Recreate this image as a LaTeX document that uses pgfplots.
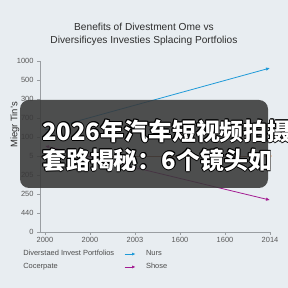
\documentclass[border=0pt]{standalone}
\usepackage{fontspec}
\setmainfont{Liberation Sans}
\newfontfamily\cjk{Noto Sans CJK SC}
\usepackage{pgfplots}
\pgfplotsset{compat=1.18}
\usetikzlibrary{arrows.meta}
\definecolor{bg}{HTML}{E8EDF1}
\definecolor{cblue}{HTML}{1E9AD8}
\definecolor{cpurple}{HTML}{A31C92}
\definecolor{cbrown}{HTML}{8B4A2B}
\definecolor{corange}{HTML}{F07A20}
\definecolor{txt}{HTML}{2E2E2E}
\definecolor{axgray}{HTML}{9A9EA2}
\begin{document}
\begin{tikzpicture}
\fill[bg] (0,0) rectangle (288bp,288bp);
\useasboundingbox (0,0) rectangle (288bp,288bp);
\begin{axis}[
  at={(40bp,56bp)}, anchor=south west,
  scale only axis, width=230bp, height=171bp,
  xmin=-0.111, xmax=5, ymin=0, ymax=9,
  axis lines=left, axis line style={axgray, -},
  clip=false,
  xtick={0,...,5}, xticklabels={2000,2000,2003,1600,1600,2014},
  ytick={0,...,9}, yticklabels={0,440,250,205,5,100,700,300,500,1000},
  tick align=outside, major tick length=3bp,
  tick style={axgray},
  /pgf/number format/assume math mode=true,
  ticklabel style={font=\fontsize{7.5}{8.5}\selectfont, text=txt!80},
  xticklabel style={yshift=1bp},
  ylabel={Miegr Tin's},
  ylabel style={at={(axis description cs:-0.109,0.626)}, anchor=center, rotate=0, font=\fontsize{9.5}{10}\selectfont, text=txt},
  every axis title shift=0pt,
  title={Benefits of Divestment Ome vs\\Diversificyes Investies Splacing Portfolios},
  title style={at={(axis description cs:0.452,1.155)}, anchor=center, align=center, font=\fontsize{10.2}{12.7}\selectfont, text=txt},
  legend columns=2,
  legend cell align=left,
  legend style={at={(axis description cs:-0.13,-0.09)}, anchor=north west, draw=none, fill=none,
    font=\fontsize{7.5}{8.5}\selectfont, text=txt!85, column sep=9bp, row sep=4bp,
    nodes={inner sep=1bp}},
]
\addplot[cbrown, line width=0.8pt, mark=*, mark indices={2}, mark options={corange, fill=corange, scale=0.5},
  legend image code/.code={}] coordinates {(-0.111,4.0) (5,4.0)};
\addlegendentry{Diverstaed Invest Portfolios}
\addplot[cblue, line width=0.8pt, -{Latex[length=4bp,width=3.5bp]},
  legend image code/.code={\draw[cblue, line width=0.8pt, -{Latex[length=3.5bp,width=3bp]}] (0bp,0bp) -- (11bp,0bp);}]
  coordinates {(0,5.37) (5,8.63)};
\addlegendentry{Nurs}
\addlegendimage{legend image code/.code={}}
\addlegendentry{Cocerpate}
\addplot[cpurple, line width=0.8pt, {Latex[length=4bp,width=3.5bp]}-{Latex[length=4bp,width=3.5bp]},
  legend image code/.code={\draw[cpurple, line width=0.8pt, -{Latex[length=3.5bp,width=3bp]}] (0bp,0bp) -- (11bp,0bp);}]
  coordinates {(0,4.53) (5,1.68)};
\addlegendentry{Shose}
\end{axis}
\fill[black!78, opacity=0.88, rounded corners=9bp] (20bp,100bp) rectangle (268bp,188bp);
\foreach \dx/\dy in {-0.9/0,0.9/0,0/-0.9,0/0.9,-0.65/-0.65,0.65/0.65,-0.65/0.65,0.65/-0.65} {
  \node[anchor=west, inner sep=0pt, text=black] at (42bp+\dx bp,157bp+\dy bp) {\cjk\bfseries\fontsize{24}{26}\selectfont 2026年汽车短视频拍摄};
  \node[anchor=west, inner sep=0pt, text=black] at (42bp+\dx bp,128bp+\dy bp) {\cjk\bfseries\fontsize{24}{26}\selectfont 套路揭秘：6个镜头如};
}
\node[anchor=west, inner sep=0pt, text=white] at (42bp,157bp) {\cjk\bfseries\fontsize{24}{26}\selectfont 2026年汽车短视频拍摄};
\node[anchor=west, inner sep=0pt, text=white] at (42bp,128bp) {\cjk\bfseries\fontsize{24}{26}\selectfont 套路揭秘：6个镜头如};
\end{tikzpicture}
\end{document}
